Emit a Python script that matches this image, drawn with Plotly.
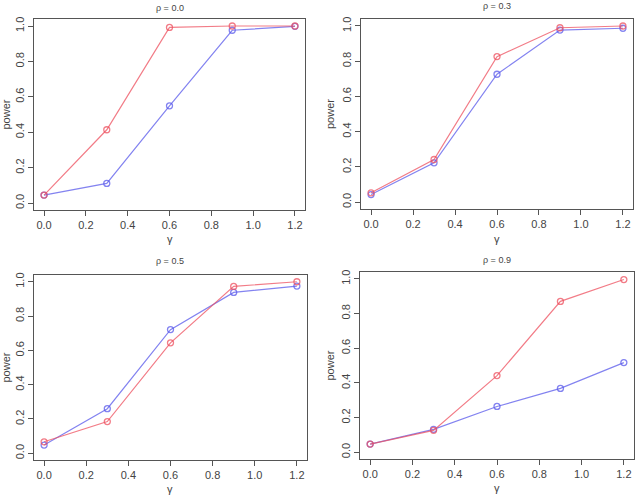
import plotly.graph_objects as go

gamma = [0.0, 0.3, 0.6, 0.9, 1.2]
titles = ["ρ = 0.0", "ρ = 0.3", "ρ = 0.5", "ρ = 0.9"]
red_series = [
    [0.045, 0.414, 0.992, 1.0, 1.0],
    [0.053, 0.242, 0.826, 0.990, 1.0],
    [0.067, 0.185, 0.644, 0.973, 1.0],
    [0.047, 0.126, 0.442, 0.870, 0.996],
]
blue_series = [
    [0.045, 0.111, 0.549, 0.976, 0.998],
    [0.043, 0.223, 0.726, 0.977, 0.987],
    [0.048, 0.260, 0.721, 0.938, 0.975],
    [0.047, 0.132, 0.264, 0.368, 0.517],
]
x_ticks = [0.0, 0.2, 0.4, 0.6, 0.8, 1.0, 1.2]
y_ticks = [0.0, 0.2, 0.4, 0.6, 0.8, 1.0]

W, H = 637, 496
# panel boxes in pixels: left, right, top, bottom
boxes = [(34, 305, 17, 209), (361, 633, 17, 208), (34, 307, 274, 460), (360, 634, 271, 459)]
title_y = [6, 4, 260, 259]
ylab_x = [6, 330, 6, 330]
xlab_y = [238, 238, 489, 488]

RED = "rgba(238,80,95,0.75)"
BLUE = "rgba(90,90,235,0.75)"
GREY = "#555555"

fig = go.Figure()
layout = {}
annotations = []
for i in range(4):
    l, r, t, b = boxes[i]
    sfx = "" if i == 0 else str(i + 1)
    xa, ya = "x" + sfx, "y" + sfx
    for ys, col in ((blue_series[i], BLUE), (red_series[i], RED)):
        fig.add_trace(go.Scatter(
            x=gamma, y=ys, xaxis=xa, yaxis=ya, mode="lines+markers",
            line=dict(color=col, width=1.2),
            marker=dict(symbol="circle-open", size=6, color=col, line=dict(width=1.3)),
            showlegend=False, hoverinfo="skip"))
    layout["xaxis" + sfx] = dict(
        domain=[l / W, r / W], anchor=ya, range=[-0.048, 1.248],
        tickvals=x_ticks, ticktext=[f"{v:.1f}" for v in x_ticks],
        showline=True, mirror=True, linecolor=GREY, linewidth=1,
        ticks="outside", ticklen=5, tickcolor=GREY, showgrid=False, zeroline=False,
        tickfont=dict(family="Liberation Sans, Arial", size=11, color="#444444"))
    layout["yaxis" + sfx] = dict(
        domain=[1 - b / H, 1 - t / H], anchor=xa, range=[-0.04, 1.04],
        tickvals=y_ticks, ticktext=[f"{v:.1f}" for v in y_ticks], tickangle=-90,
        showline=True, mirror=True, linecolor=GREY, linewidth=1,
        ticks="outside", ticklen=5, tickcolor=GREY, showgrid=False, zeroline=False,
        tickfont=dict(family="Liberation Sans, Arial", size=11, color="#444444"))
    cx = (l + r) / 2 / W
    annotations.append(dict(text=titles[i], x=cx, y=1 - title_y[i] / H, xref="paper", yref="paper",
                            showarrow=False, xanchor="center", yanchor="middle",
                            font=dict(family="Liberation Sans Narrow, Liberation Sans", size=9, color="#444444")))
    annotations.append(dict(text="γ", x=cx, y=1 - xlab_y[i] / H, xref="paper", yref="paper",
                            showarrow=False, xanchor="center", yanchor="middle",
                            font=dict(family="Liberation Sans, Arial", size=11, color="#444444")))
    annotations.append(dict(text="power", x=ylab_x[i] / W, y=1 - (t + b) / 2 / H, xref="paper", yref="paper",
                            showarrow=False, xanchor="center", yanchor="middle", textangle=-90,
                            font=dict(family="Liberation Sans, Arial", size=11, color="#444444")))

fig.update_layout(width=W, height=H, margin=dict(l=0, r=0, t=0, b=0),
                  paper_bgcolor="white", plot_bgcolor="white", annotations=annotations, **layout)
fig.write_html("out.html")
